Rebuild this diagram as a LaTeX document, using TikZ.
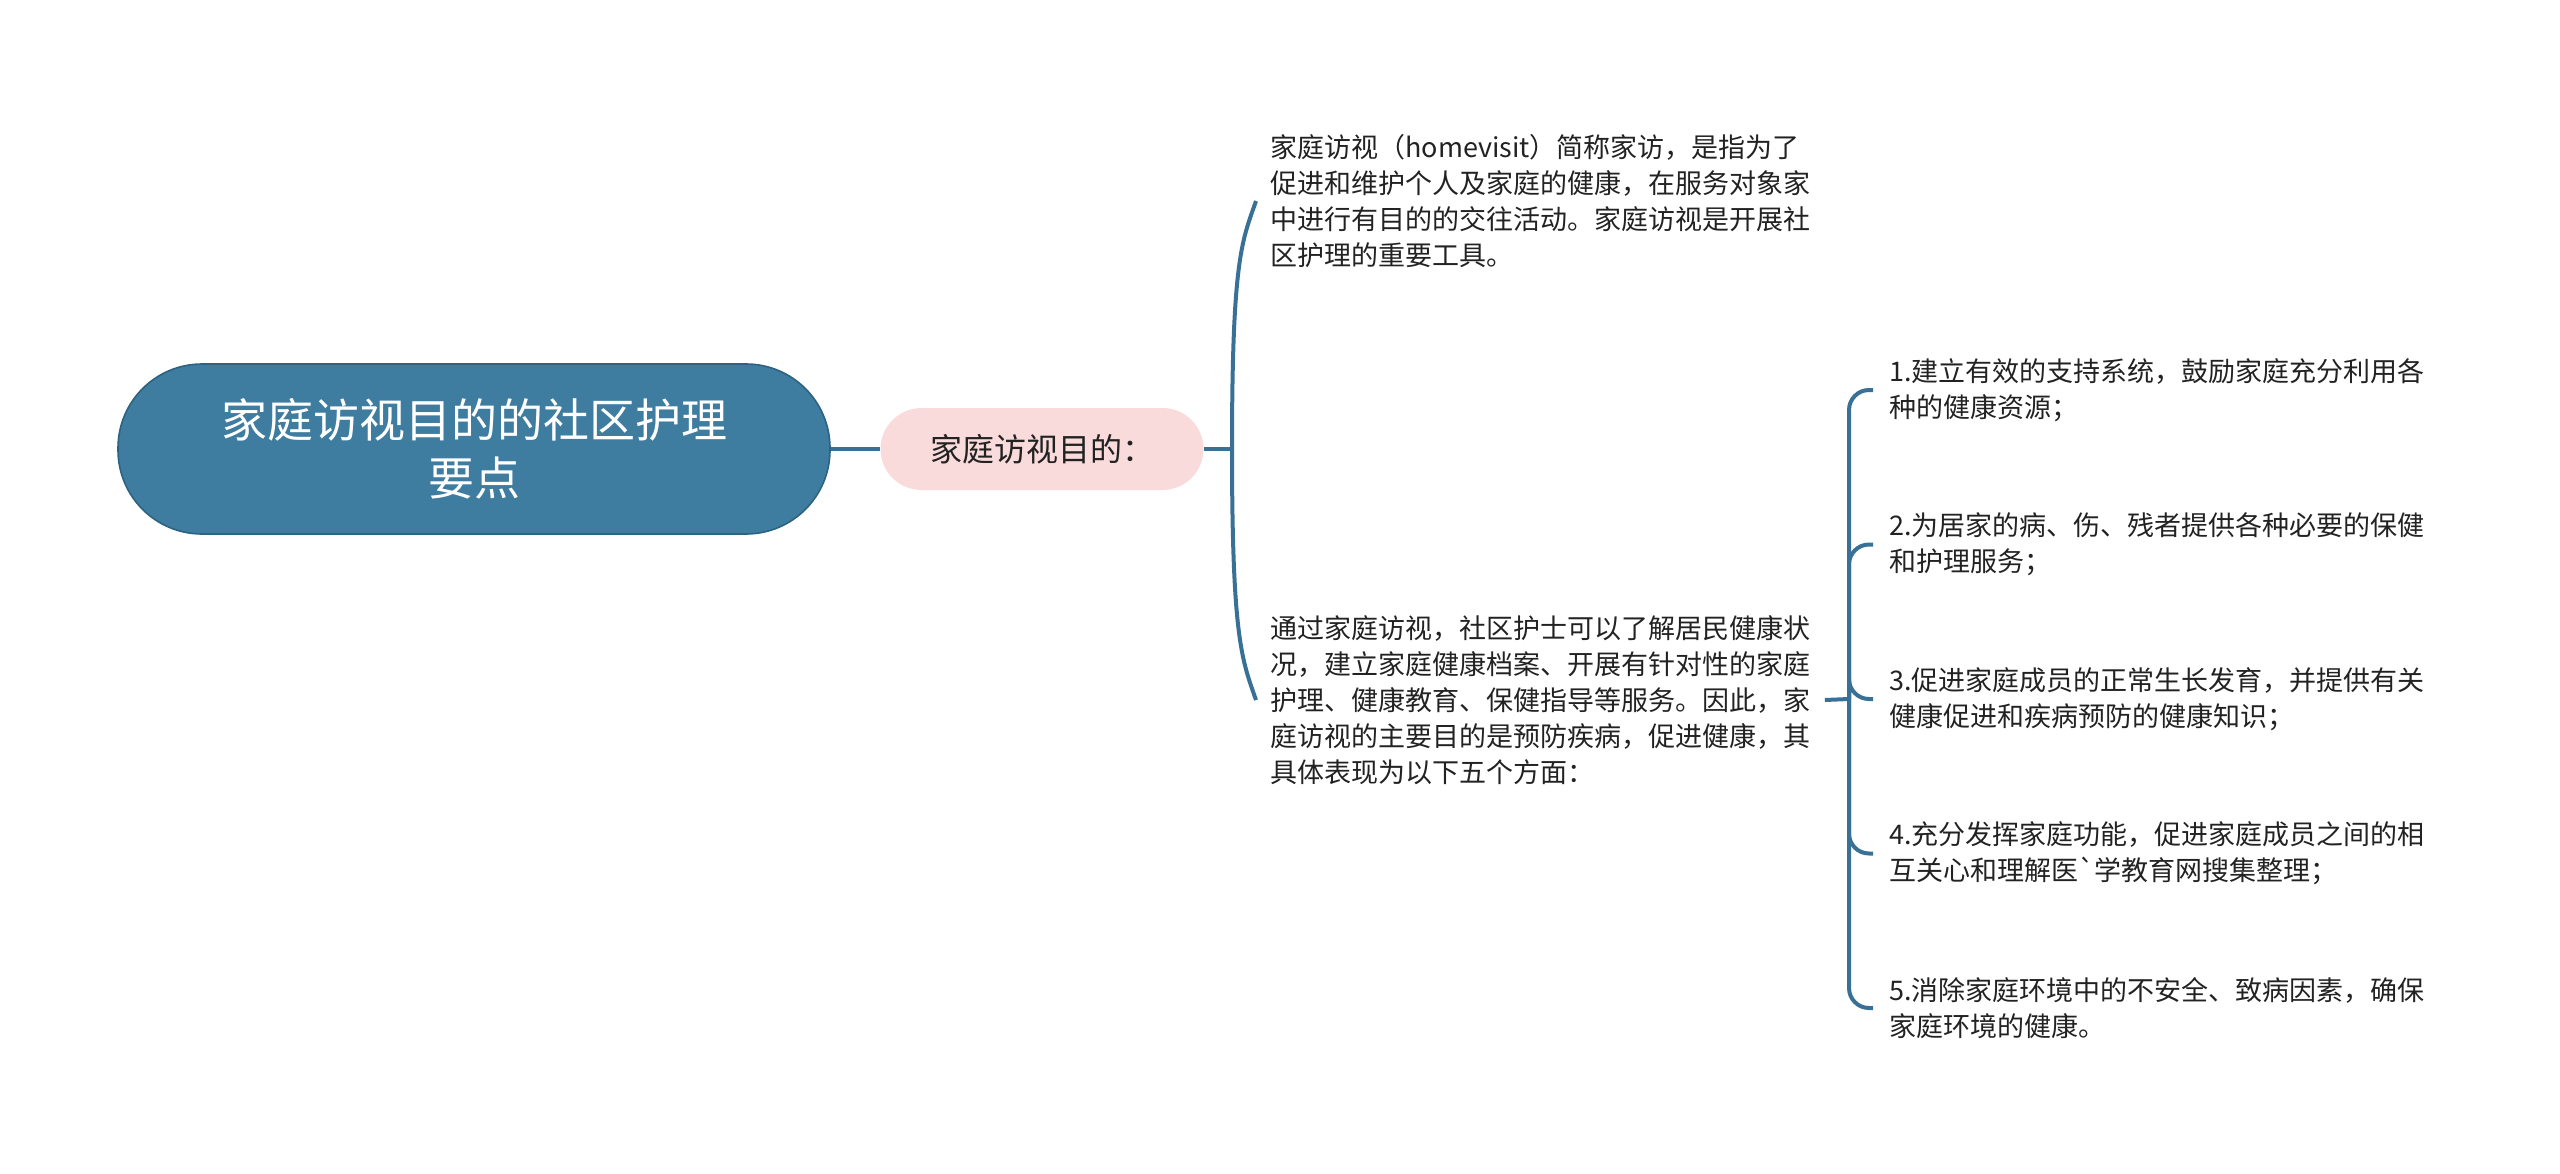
\documentclass[tikz,border=0pt]{standalone}
\usepackage{fontspec}
\setmainfont{Noto Sans CJK SC}
\usetikzlibrary{calc}

\definecolor{rootblue}{RGB}{62,124,160}
\definecolor{rootedge}{RGB}{44,98,130}
\definecolor{linkblue}{RGB}{57,113,150}
\definecolor{aimpink}{RGB}{250,219,219}
\definecolor{textgray}{RGB}{34,34,34}

\begin{document}
\begin{tikzpicture}
      [   x=0.5pt,y=-0.5pt,
          rootnode/.style={draw=rootedge,line width=0.8pt,fill=rootblue,text=white,rounded corners=42pt,minimum width=356pt,minimum height=85pt,align=center,font=\fontsize{23}{29}\selectfont},
          aimnode/.style={fill=aimpink,text=textgray,rounded corners=20.5pt,minimum width=161.5pt,minimum height=41pt,font=\fontsize{16}{20}\selectfont},
          leafnode/.style={anchor=west,align=left,text=textgray,inner xsep=7pt,inner ysep=0pt,font=\fontsize{13.5}{18}\selectfont},
          link/.style={draw=linkblue,line width=2pt},
      ]
          \useasboundingbox (0,0) rectangle (2560,1173);
          \node[rootnode] (root) at (474,449) {家庭访视目的的社区护理\\要点};
          \node[aimnode] (aim) at (1042,449) {家庭访视目的：};
          \draw[link] (root.east) -- (aim.west);
          \coordinate (j1) at (1232,449);
          \draw[link] (aim.east) -- (j1);
          \node[leafnode] (def) at (1256,201) {家庭访视（homevisit）简称家访，是指为了\\促进和维护个人及家庭的健康，在服务对象家\\中进行有目的的交往活动。家庭访视是开展社\\区护理的重要工具。};
          \node[leafnode] (way) at (1256,700) {通过家庭访视，社区护士可以了解居民健康状\\况，建立家庭健康档案、开展有针对性的家庭\\护理、健康教育、保健指导等服务。因此，家\\庭访视的主要目的是预防疾病，促进健康，其\\具体表现为以下五个方面：};
          \draw[link] (j1) .. controls ($(j1)+(0,-190)$) and ($(def.west)+(-14,40)$) .. (def.west);
          \draw[link] (j1) .. controls ($(j1)+(0,190)$) and ($(way.west)+(-14,-40)$) .. (way.west);
          \coordinate (j2) at (1849,699);
          \draw[link] (way.east) -- (j2);
          \foreach \i/\t in {1/{1.建立有效的支持系统，鼓励家庭充分利用各\\种的健康资源；},
                             2/{2.为居家的病、伤、残者提供各种必要的保健\\和护理服务；},
                             3/{3.促进家庭成员的正常生长发育，并提供有关\\健康促进和疾病预防的健康知识；},
                             4/{4.充分发挥家庭功能，促进家庭成员之间的相\\互关心和理解医\textasciigrave 学教育网搜集整理；},
                             5/{5.消除家庭环境中的不安全、致病因素，确保\\家庭环境的健康。}}
          {   \node[leafnode,inner xsep=8pt] (p-\i) at (1873,{699+(\i-3)*154.5}) {\t};
              \draw[link,rounded corners=10pt] (j2) |- (p-\i.west);
          }
    \end{tikzpicture}
\end{document}
